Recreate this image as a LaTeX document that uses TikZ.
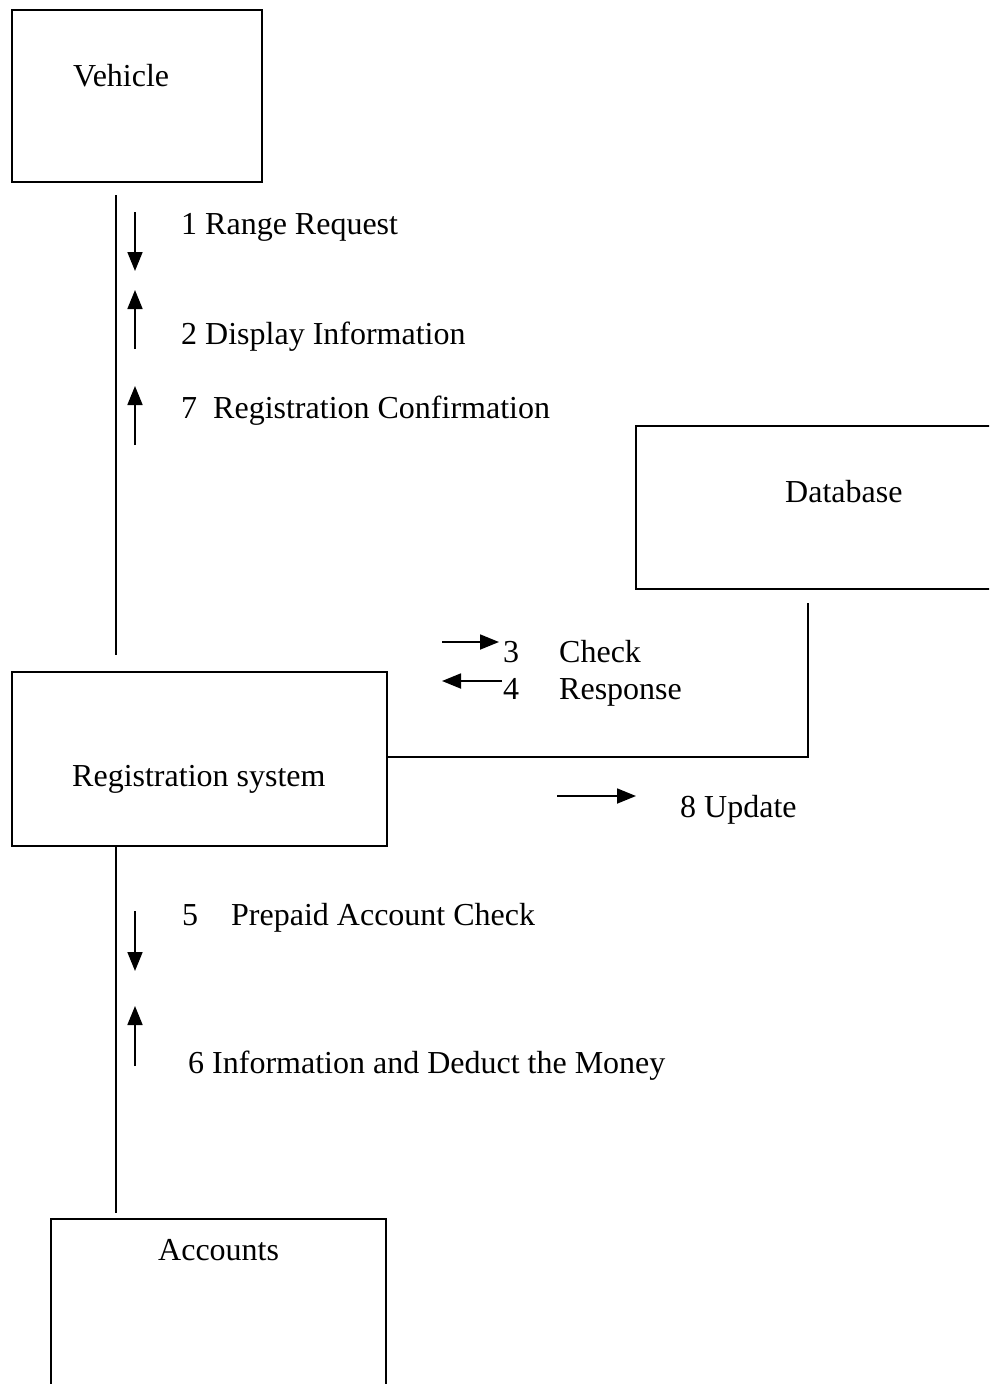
\documentclass[tikz,border=0pt]{standalone}
\usepackage{fontspec}
\setmainfont{Liberation Serif}
\usetikzlibrary{arrows.meta}
\begin{document}
\begin{tikzpicture}[x=1pt,y=-1pt,
  box/.style={draw,line width=1.8pt,inner sep=0pt,anchor=north west},
  lbl/.style={font=\fontsize{32}{36}\selectfont,inner sep=0pt,anchor=base west},
  link/.style={line width=1.8pt},
  msg/.style={line width=1.8pt,-{Triangle[length=19pt,width=15pt]}}]
\useasboundingbox (0,0) rectangle (989,1384);
\clip (0,0) rectangle (989,1384);
% boxes
\node[box,minimum width=250pt,minimum height=172pt] (veh) at (11,9) {};
\node[box,minimum width=365pt,minimum height=163pt] (db) at (635,425) {};
\node[box,minimum width=375pt,minimum height=174pt] (reg) at (11,671) {};
\node[box,minimum width=335pt,minimum height=200pt] (acc) at (50,1218) {};
% box texts
\node[lbl] (vehT) at (73,86) {Vehicle};
\node[lbl] (dbT) at (785,502) {Database};
\node[lbl] (regT) at (72,786) {Registration system};
\node[lbl] (accT) at (158,1260) {Accounts};
% connectors
\coordinate (c1) at (116,195);
\coordinate (c2) at (116,655);
\draw[link] (c1) -- (c2);
\coordinate (c3) at (808,603);
\coordinate (c4) at (808,757);
\draw[link] (c3) -- (c4) -- (c4 -| reg.east);
\coordinate (c5) at (116,847);
\coordinate (c6) at (116,1213);
\draw[link] (c5) -- (c6);
% message arrows
\coordinate (a1s) at (135,212); \coordinate (a1e) at (135,271);
\draw[msg] (a1s) -- (a1e);
\coordinate (a2s) at (135,349); \coordinate (a2e) at (135,290);
\draw[msg] (a2s) -- (a2e);
\coordinate (a7s) at (135,445); \coordinate (a7e) at (135,386);
\draw[msg] (a7s) -- (a7e);
\coordinate (a3s) at (442,642); \coordinate (a3e) at (499,642);
\draw[msg] (a3s) -- (a3e);
\coordinate (a4s) at (502,681); \coordinate (a4e) at (442,681);
\draw[msg] (a4s) -- (a4e);
\coordinate (a8s) at (557,796); \coordinate (a8e) at (636,796);
\draw[msg] (a8s) -- (a8e);
\coordinate (a5s) at (135,911); \coordinate (a5e) at (135,971);
\draw[msg] (a5s) -- (a5e);
\coordinate (a6s) at (135,1066); \coordinate (a6e) at (135,1006);
\draw[msg] (a6s) -- (a6e);
% message labels
\node[lbl] (m1) at (181,234) {1 Range Request};
\node[lbl] (m2) at (181,344) {2 Display Information};
\node[lbl] (m7) at (181,418) {7\ \ Registration Confirmation};
\node[lbl] (m3n) at (503,662) {3};
\node[lbl] (m3) at (559,662) {Check};
\node[lbl] (m4n) at (503,699) {4};
\node[lbl] (m4) at (559,699) {Response};
\node[lbl] (m8) at (680,817) {8 Update};
\node[lbl] (m5n) at (182,925) {5};
\node[lbl] (m5) at (231,925) {Prepaid Account Check};
\node[lbl] (m6) at (188,1073) {6 Information and Deduct the Money};
\end{tikzpicture}
\end{document}
